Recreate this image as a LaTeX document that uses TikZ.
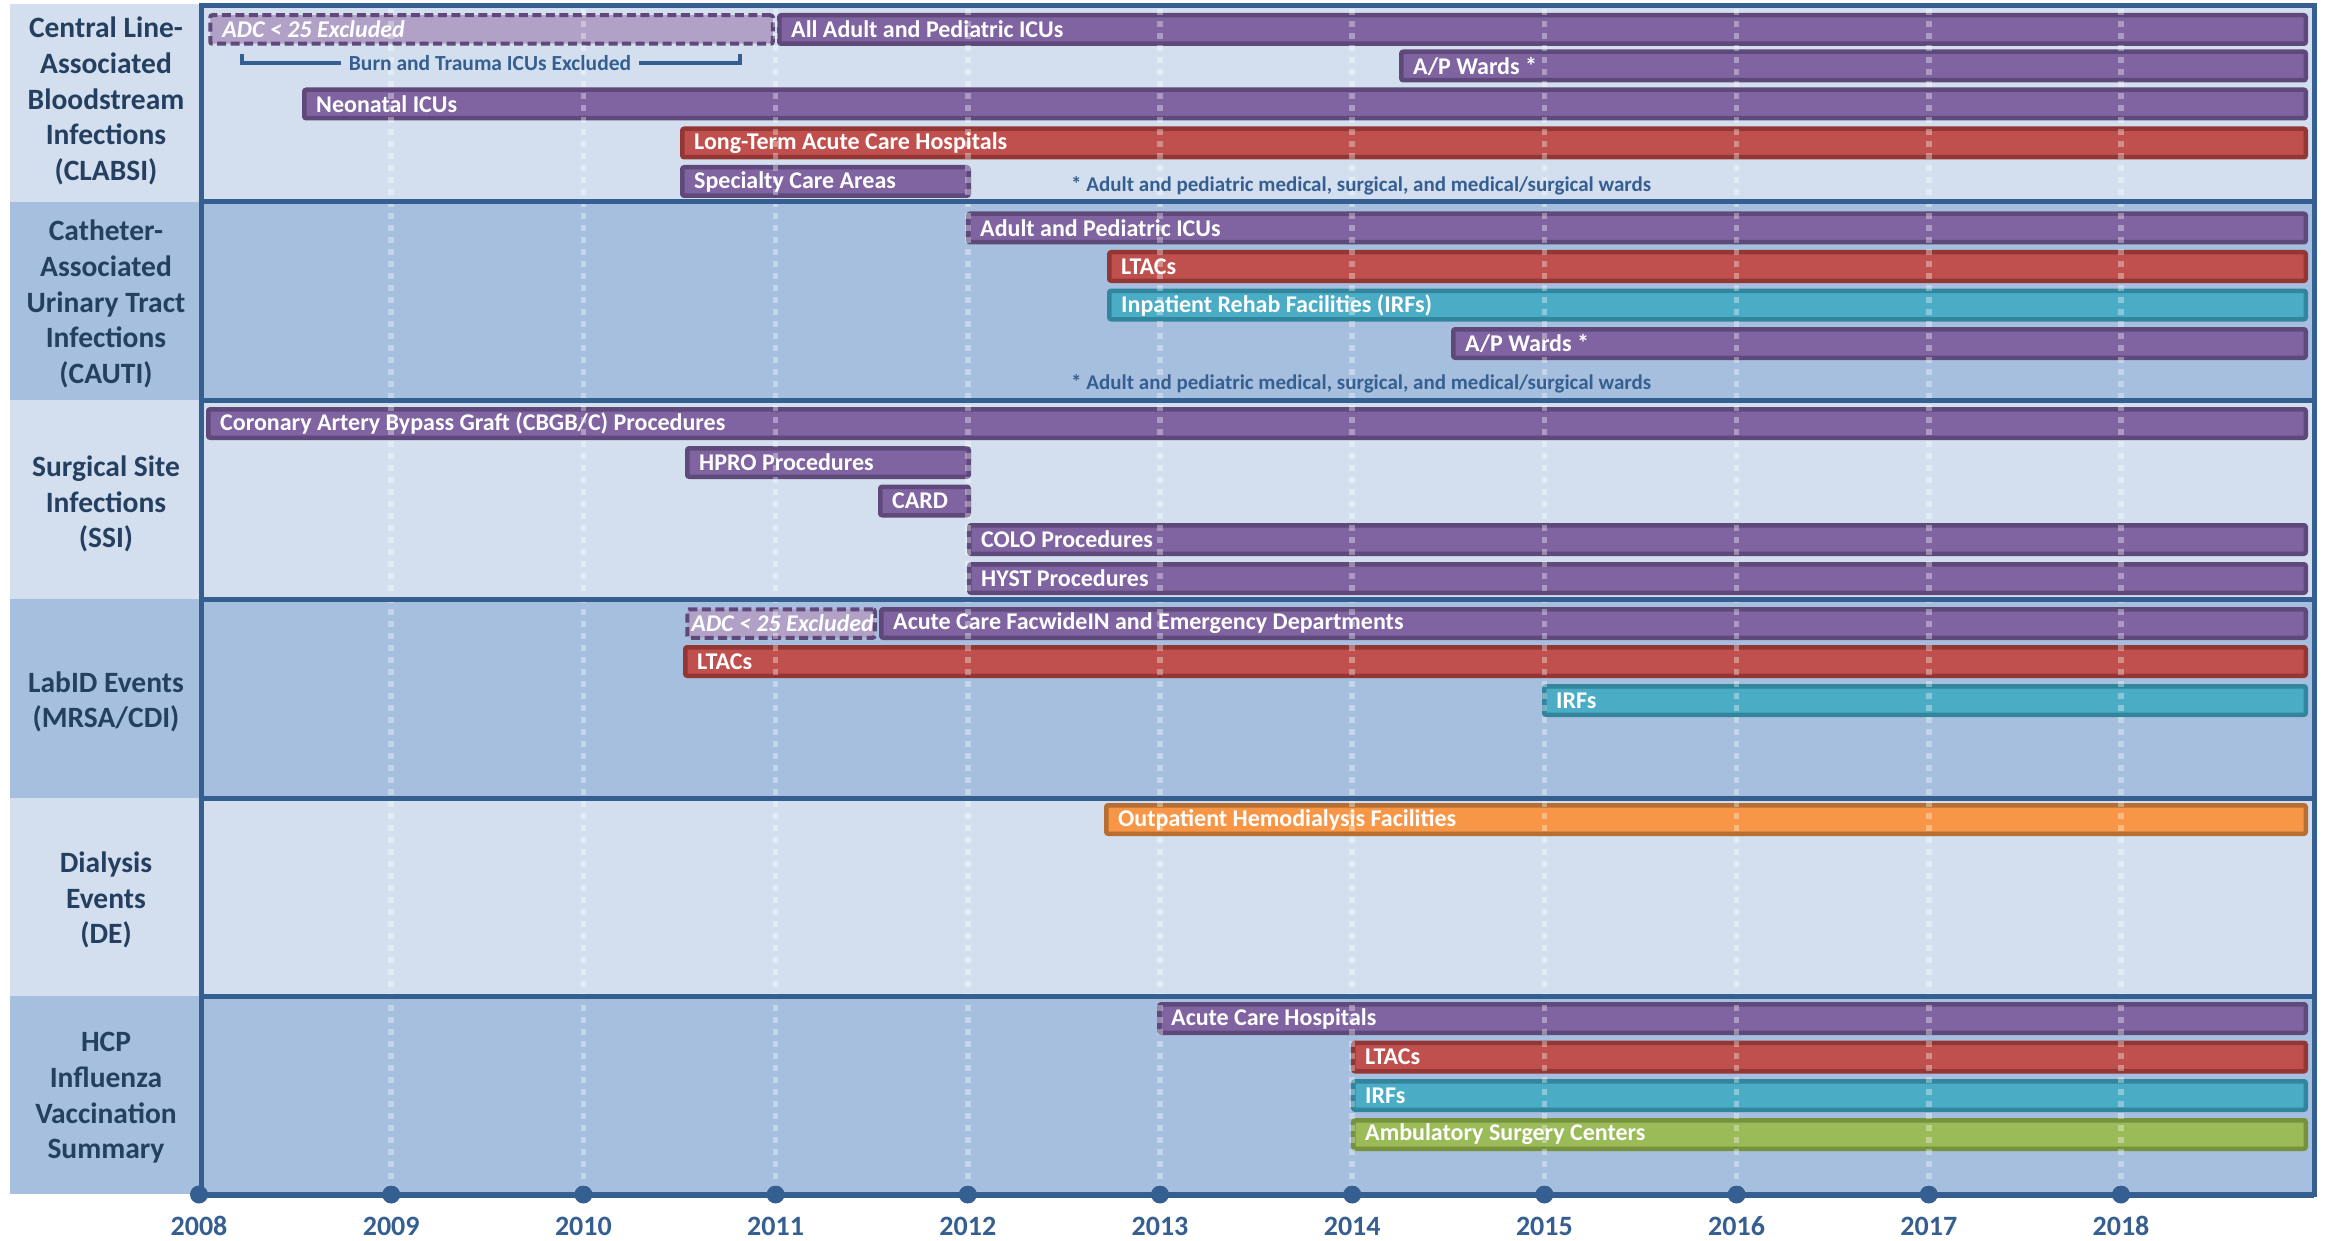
\documentclass[tikz,border=0pt]{standalone}
\usepackage{fontspec}
\setmainfont{Carlito}
\definecolor{lightbg}{HTML}{D3DFEE}
\definecolor{darkbg}{HTML}{A7BFDE}
\definecolor{framec}{HTML}{365F91}
\definecolor{labtext}{HTML}{243F60}
\definecolor{purpfill}{HTML}{8064A2}
\definecolor{purpline}{HTML}{5F497A}
\definecolor{lpfill}{HTML}{B2A1C7}
\definecolor{redfill}{HTML}{C0504D}
\definecolor{redline}{HTML}{943634}
\definecolor{tealfill}{HTML}{4BACC6}
\definecolor{tealline}{HTML}{31859C}
\definecolor{orfill}{HTML}{F79646}
\definecolor{orline}{HTML}{B86E32}
\definecolor{grfill}{HTML}{9BBB59}
\definecolor{grline}{HTML}{76923C}
\pgfdeclarelayer{bg}
\pgfdeclarelayer{barl}
\pgfdeclarelayer{gridl}
\pgfsetlayers{bg,barl,gridl,main}
\tikzset{
  barbase/.style={rounded corners=2pt, line width=4.5pt, inner sep=0pt, anchor=center},
  pbar/.style={barbase, fill=purpfill, draw=purpline},
  rbar/.style={barbase, fill=redfill, draw=redline},
  tbar/.style={barbase, fill=tealfill, draw=tealline},
  obar/.style={barbase, fill=orfill, draw=orline},
  gbar/.style={barbase, fill=grfill, draw=grline},
  dbar/.style={barbase, fill=lpfill, draw=purpline, line width=4pt, dash pattern=on 9pt off 4.5pt},
  lbl/.style={text=white, font=\fontsize{24}{28}\selectfont\bfseries, anchor=west, inner sep=0pt},
  seclbl/.style={text=labtext, font=\fontsize{29.5}{35.6}\selectfont\bfseries, align=center, inner sep=0pt},
  foot/.style={text=framec, font=\fontsize{21}{24}\selectfont\bfseries, anchor=west, inner sep=0pt},
  yearlbl/.style={text=framec, font=\fontsize{28}{32}\selectfont\bfseries, inner sep=0pt},
  gridline/.style={white, opacity=0.35, line width=5.5pt, dash pattern=on 6pt off 6pt},
  frameline/.style={framec, line width=5pt},
  dot/.style={circle, fill=framec, inner sep=0pt, minimum size=18pt},
}
\newcommand\tlbar[7][14]{%
  \pgfmathsetmacro\tlw{#5-#4-4.5}%
  \pgfmathsetmacro\tlx{(#4+#5)/2}%
  \pgfmathsetmacro\tly{#6+16.5}%
  \begin{pgfonlayer}{barl}
  \node[#3, minimum width=\tlw pt, minimum height=28.5pt] (#2) at (\tlx,\tly) {};
  \end{pgfonlayer}
  \node[lbl] (#2-t) at ([xshift=#1pt]#2.west) {#7};
}
\begin{document}
\begin{tikzpicture}[x=1pt,y=-1pt]
\useasboundingbox (0,0) rectangle (2325,1241);
\begin{pgfonlayer}{bg}
\fill[white] (0,0) rectangle (2325,1241);
\fill[lightbg] (10,4) rectangle (2314,202);
\fill[darkbg] (10,202) rectangle (2314,400);
\fill[lightbg] (10,400) rectangle (2314,599);
\fill[darkbg] (10,599) rectangle (2314,798);
\fill[lightbg] (10,798) rectangle (2314,996);
\fill[darkbg] (10,996) rectangle (2314,1194);
\end{pgfonlayer}

% section labels
\node[seclbl] (lclabsi) at (106,101) {Central Line-\\Associated\\Bloodstream\\Infections\\(CLABSI)};
\node[seclbl] (lcauti) at (106,304) {Catheter-\\Associated\\Urinary Tract\\Infections\\(CAUTI)};
\node[seclbl] (lssi) at (106,504) {Surgical Site\\Infections\\(SSI)};
\node[seclbl] (llabid) at (106,702) {LabID Events\\(MRSA/CDI)};
\node[seclbl] (lde) at (106,900) {Dialysis\\Events\\(DE)};
\node[seclbl] (lhcp) at (106,1098) {HCP\\Influenza\\Vaccination\\Summary};

% CLABSI
\tlbar{c1a}{dbar}{208}{775}{13}{\itshape ADC < 25 Excluded}
\tlbar{c1b}{pbar}{777}{2308}{13}{All Adult and Pediatric ICUs}
\tlbar{c2}{pbar}{1399}{2308}{49.5}{A/P Wards *}
\tlbar{c3}{pbar}{302}{2308}{87.5}{Neonatal ICUs}
\tlbar{c4}{rbar}{680}{2308}{126.5}{Long-Term Acute Care Hospitals}
\tlbar{c5}{pbar}{680}{971}{165}{Specialty Care Areas}
\node[text=framec, font=\fontsize{21.5}{24}\selectfont\bfseries, inner sep=8pt] (bt) at (490,63) {Burn and Trauma ICUs Excluded};
\coordinate (bl) at (242,54);
\coordinate (br) at (740,54);
\draw[framec, line width=4pt] (bl) |- (bt.west);
\draw[framec, line width=4pt] (br) |- (bt.east);
\node[foot] (f1) at (1071,186) {* Adult and pediatric medical, surgical, and medical/surgical wards};

% CAUTI
\tlbar{u1}{pbar}{966}{2308}{211.5}{Adult and Pediatric ICUs}
\tlbar{u2}{rbar}{1107}{2308}{250}{LTACs}
\tlbar{u3}{tbar}{1107}{2308}{288.5}{Inpatient Rehab Facilities (IRFs)}
\tlbar{u4}{pbar}{1451}{2308}{327}{A/P Wards *}
\node[foot] (f2) at (1071,384) {* Adult and pediatric medical, surgical, and medical/surgical wards};

% SSI
\tlbar{s1}{pbar}{206}{2308}{407}{Coronary Artery Bypass Graft (CBGB/C) Procedures}
\tlbar{s2}{pbar}{685}{971}{446}{HPRO Procedures}
\tlbar{s3}{pbar}{878}{971}{484.5}{CARD}
\tlbar{s4}{pbar}{967}{2308}{523}{COLO Procedures}
\tlbar{s5}{pbar}{967}{2308}{562}{HYST Procedures}

% LabID
\tlbar[6]{l1a}{dbar}{685}{877}{607}{\itshape ADC < 25 Excluded}
\tlbar{l1b}{pbar}{879}{2308}{607}{Acute Care FacwideIN and Emergency Departments}
\tlbar{l2}{rbar}{683}{2308}{645}{LTACs}
\tlbar{l3}{tbar}{1542}{2308}{684}{IRFs}

% DE
\tlbar{d1}{obar}{1104}{2308}{803}{Outpatient Hemodialysis Facilities}

% HCP
\tlbar{h1}{pbar}{1157}{2308}{1002}{Acute Care Hospitals}
\tlbar{h2}{rbar}{1351}{2308}{1040.5}{LTACs}
\tlbar{h3}{tbar}{1351}{2308}{1079}{IRFs}
\tlbar{h4}{gbar}{1351}{2308}{1118}{Ambulatory Surgery Centers}

% grid lines
\begin{pgfonlayer}{gridl}
\foreach \i in {1,...,10} {\draw[gridline] ({199+\i*192.2},9) -- ({199+\i*192.2},1190);}
\end{pgfonlayer}

% frame and dividers
\draw[frameline] (201,5.5) rectangle (2314,1194.5);
\foreach \yy in {202,400,599,798,996} {\draw[frameline] (201,\yy) -- (2314,\yy);}
\coordinate (axend) at (2314,1194.5);
\draw[framec, line width=6pt] (199,1194.5) -- (axend);
\foreach \yr [count=\i from 0] in {2008,...,2018} {
  \node[dot] (d\yr) at ({199+\i*192.2},1194.5) {};
  \node[yearlbl] (y\yr) at ({199+\i*192.2},1226) {\yr};
}
\end{tikzpicture}
\end{document}
